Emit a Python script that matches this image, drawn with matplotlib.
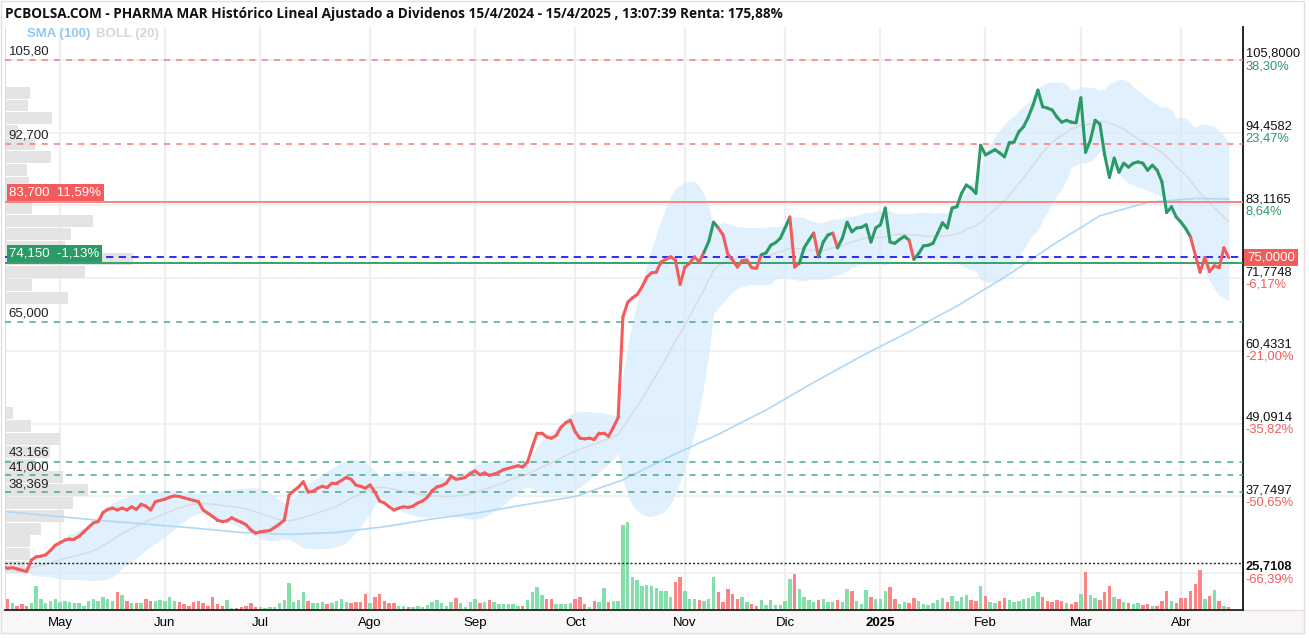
import numpy as np
import pandas as pd
import matplotlib
matplotlib.use("Agg")
import matplotlib.pyplot as plt
import matplotlib.transforms as mtransforms
from matplotlib.collections import LineCollection
from matplotlib.patches import Rectangle

# ---------------- data ----------------
start_date, end_date = "2024-04-15", "2025-04-15"
market_holidays = ["2024-05-01", "2024-12-25", "2024-12-26", "2025-01-01"]

close = [
    26.75, 26.5, 26.6, 26.4, 26.2, 26.0, 27.8, 28.3, 28.4, 28.6,
    29.3, 30.1, 30.5, 30.9, 31.1, 31.1, 31.5, 32.2, 32.9, 33.6,
    33.8, 35.2, 35.7, 35.9, 35.6, 35.9, 35.6, 36.1, 35.7, 36.5,
    36.2, 35.6, 36.9, 37.1, 37.3, 37.6, 37.8, 37.7, 37.5, 37.3,
    37.1, 36.9, 35.6, 35.1, 34.6, 34.0, 33.8, 33.9, 34.4, 34.0,
    33.7, 33.3, 32.5, 32.0, 32.2, 32.3, 32.4, 32.9, 33.4, 34.0,
    37.9, 38.6, 39.2, 40.0, 38.4, 38.5, 39.0, 39.3, 39.1, 39.8,
    39.8, 40.2, 40.7, 40.4, 39.5, 39.3, 39.0, 39.5, 38.4, 37.0,
    36.7, 36.1, 35.6, 35.9, 36.1, 36.0, 36.2, 36.7, 37.0, 37.6,
    38.6, 39.2, 39.4, 39.8, 40.9, 40.4, 40.5, 40.7, 41.3, 41.7,
    41.1, 41.4, 41.0, 41.2, 41.5, 41.9, 42.1, 42.3, 42.5, 42.3,
    43.1, 45.4, 47.6, 47.6, 47.0, 46.8, 47.2, 48.5, 49.2, 49.6,
    47.8, 46.8, 46.7, 46.8, 46.6, 47.6, 47.6, 47.1, 48.5, 50.0,
    65.7, 68.0, 68.7, 69.2, 70.4, 71.9, 72.6, 72.7, 74.3, 74.7,
    75.1, 74.6, 70.8, 73.5, 74.1, 75.1, 74.3, 75.8, 77.5, 80.5,
    79.6, 78.5, 75.5, 74.6, 73.5, 74.5, 74.6, 73.4, 73.3, 75.4,
    75.7, 76.9, 77.3, 78.0, 79.6, 81.3, 73.5, 74.1, 76.5, 77.7,
    78.8, 75.1, 77.4, 78.5, 78.8, 76.5, 78.0, 80.5, 79.0, 79.6,
    79.7, 80.1, 77.4, 79.6, 80.1, 82.7, 77.4, 77.2, 77.8, 78.3,
    77.7, 74.7, 75.6, 76.8, 76.9, 77.2, 78.8, 80.4, 79.6, 82.7,
    82.9, 85.0, 86.3, 85.8, 85.0, 92.5, 91.0, 91.4, 91.8, 91.3,
    90.7, 92.9, 93.0, 94.6, 95.4, 96.9, 98.8, 101.1, 98.5, 98.3,
    98.0, 96.9, 96.1, 96.4, 96.1, 96.0, 99.9, 91.4, 93.3, 96.4,
    95.8, 91.0, 87.5, 90.5, 88.3, 89.7, 89.1, 89.7, 89.9, 89.7,
    88.6, 89.4, 88.6, 86.8, 82.0, 82.9, 81.3, 80.5, 79.5, 78.2,
    75.4, 72.7, 75.0, 72.8, 73.7, 73.4, 76.5, 75.0,
]

volume = [
    9, 11, 7, 4, 6, 4, 7, 24, 11, 7,
    9, 11, 8, 9, 8, 7, 7, 4, 9, 11,
    9, 13, 11, 9, 18, 15, 9, 7, 7, 7,
    11, 9, 9, 10, 9, 13, 9, 8, 6, 4,
    8, 9, 7, 4, 13, 6, 4, 10, 2, 2,
    3, 4, 7, 3, 3, 2, 3, 3, 7, 10,
    27, 8, 10, 18, 9, 7, 7, 8, 6, 7,
    9, 11, 8, 7, 8, 8, 16, 7, 13, 16,
    9, 7, 7, 4, 4, 3, 3, 4, 3, 5,
    8, 10, 7, 4, 8, 12, 7, 3, 8, 11,
    7, 8, 10, 8, 6, 6, 6, 6, 4, 4,
    10, 18, 23, 15, 11, 11, 6, 6, 6, 7,
    11, 13, 6, 3, 9, 8, 22, 8, 9, 9,
    85, 88, 33, 30, 24, 25, 24, 22, 19, 19,
    13, 28, 33, 19, 11, 11, 10, 9, 11, 33,
    18, 8, 21, 16, 11, 13, 8, 6, 4, 10,
    5, 10, 5, 5, 9, 31, 36, 21, 13, 10,
    8, 10, 11, 8, 8, 10, 8, 21, 19, 9,
    6, 20, 13, 11, 11, 19, 23, 11, 6, 8,
    7, 12, 9, 6, 5, 7, 10, 12, 8, 14,
    9, 13, 15, 10, 9, 24, 14, 8, 7, 9,
    12, 10, 8, 9, 11, 12, 14, 18, 13, 9,
    8, 10, 9, 7, 6, 8, 16, 38, 15, 12,
    10, 18, 24, 13, 11, 8, 7, 6, 7, 5,
    6, 4, 4, 9, 19, 9, 7, 12, 12, 19,
    26, 40, 11, 14, 20, 9, 4, 3,
]

# index ranges (start, end) of segments drawn in the "up" colour
up_runs = [(147, 150), (159, 165), (167, 170), (171, 174), (175, 190), (191, 249)]

# SMA(100) at these session indices
sma100_idx = [0, 10, 20, 30, 40, 50, 60, 70, 80, 90, 100, 110, 120, 130,
              140, 150, 160, 170, 180, 190, 200, 210, 220, 230, 240, 250, 257]
sma100_val = [35.4, 34.7, 34.0, 33.4, 32.8, 32.1, 31.8, 32.1, 33.0, 34.2,
              35.2, 36.5, 37.7, 40.3, 44.0, 47.4, 51.2, 55.5, 59.6, 63.4,
              67.4, 71.9, 76.9, 81.5, 83.6, 84.2, 84.1]

# volume-by-price profile
profile_price = [100.7, 98.7, 96.7, 94.7, 92.7, 90.7, 88.7, 86.7, 84.7, 82.7,
                 80.7, 78.7, 76.7, 74.7, 72.7, 70.7, 68.7,
                 50.7, 48.7, 46.7, 44.7, 42.7, 40.7, 38.7, 36.7, 34.7, 32.7,
                 30.7, 28.7, 26.7]
profile_volume = [25, 23, 47, 13, 30, 46, 22, 24, 40, 27,
                  88, 66, 60, 128, 80, 27, 63,
                  8, 26, 55, 45, 30, 58, 83, 68, 59, 36, 25, 25, 20]

resistance_levels = [105.8, 92.7]
resistance_labels = ["105,80", "92,700"]
support_levels = [65.0, 43.166, 41.0, 38.369]
support_labels = ["65,000", "43.166", "41,000", "38,369"]
red_level, red_label = 83.7, "83,700  11,59%"
green_level, green_label = 74.15, "74,150  -1,13%"
last_price, last_label = 75.0, "75,0000"
min_line = 27.33

axis_values = [105.8, 94.4582, 83.1165, 71.7748, 60.4331, 49.0914, 37.7497, 25.7108]
axis_value_labels = ["105,8000", "94,4582", "83,1165", "71,7748", "60,4331",
                     "49,0914", "37,7497", "25,7108"]
axis_pct_labels = ["38,30%", "23,47%", "8,64%", "-6,17%", "-21,00%",
                   "-35,82%", "-50,65%", "-66,39%"]
month_labels = ["May", "Jun", "Jul", "Ago", "Sep", "Oct", "Nov", "Dic",
                "2025", "Feb", "Mar", "Abr"]

title = ("PCBOLSA.COM - PHARMA MAR Histórico Lineal Ajustado a Dividenos "
         "15/4/2024 - 15/4/2025 , 13:07:39 Renta: 175,88%")

# ---------------- styling ----------------
RED = "#f45b5b"
GREEN = "#2a9a66"
VOL_RED = "#fb8585"
VOL_GREEN = "#84dfaa"
GRID = "#efefef"
plt.rcParams["font.family"] = ["Liberation Sans", "DejaVu Sans"]

W, H = 1309, 638
fig = plt.figure(figsize=(W / 100, H / 100), dpi=100)


def fx(px):
    return px / W


def fy(py):
    return 1 - py / H


# frame decorations (behind the axes)
fig.patches.append(Rectangle((fx(1), fy(633)), fx(1304) - fx(1), fy(1) - fy(633),
                             transform=fig.transFigure, fc="white", ec="#e6dddd",
                             lw=1, zorder=-5))
fig.patches.append(Rectangle((fx(1), fy(633)), fx(1304) - fx(1), fy(610) - fy(633),
                             transform=fig.transFigure, fc="#f8f6f6", ec="#e6dddd",
                             lw=1, zorder=-4))

ax = fig.add_axes([fx(5), fy(610), fx(1243) - fx(5), fy(27) - fy(610)])
ax.set_zorder(1)
ax.set_facecolor("white")

days = pd.bdate_range(start_date, end_date, freq="C", holidays=market_holidays)
n = len(close)
x = np.arange(n)
periods = days.to_period("M")
month_idx = [i for i in range(1, len(days)) if periods[i] != periods[i - 1]]

price = pd.Series(close, dtype=float)
mid = price.rolling(20, min_periods=1).mean()
sd = price.rolling(20, min_periods=1).std(ddof=0).fillna(0)
upper = mid + 2 * sd
lower = mid - 2 * sd

# grid
for v in axis_values:
    ax.axhline(v, color=GRID, lw=1.3, zorder=0)
for m in month_idx:
    ax.axvline(m, color=GRID, lw=1.6, zorder=0)

# volume profile (left)
prof_tr = mtransforms.blended_transform_factory(
    mtransforms.Affine2D().scale(1 / 1238, 1) + ax.transAxes, ax.transData)
ax.barh(profile_price, profile_volume, height=1.85, left=0, color="#e4e4e4",
        transform=prof_tr, zorder=1)

# bollinger
ax.fill_between(x, lower, upper, color="#d6ebfb", alpha=0.75, lw=0, zorder=1)
ax.plot(x, mid, color="#dadada", lw=1.0, zorder=2)

# volume bars
vol_tr = mtransforms.blended_transform_factory(
    ax.transData, mtransforms.Affine2D().scale(1, 1 / 583) + ax.transAxes)
chg = np.diff(np.array(close), prepend=close[0] + 1)
vcols = [VOL_GREEN if c >= 0 else VOL_RED for c in chg]
ax.bar(x, volume, width=0.72, color=vcols, transform=vol_tr, zorder=2)

# SMA 100
ax.plot(sma100_idx, sma100_val, color="#afd8f7", lw=1.2, zorder=2)

# level lines
for lv in resistance_levels:
    ax.axhline(lv, color="#f77c7c", lw=1.1, ls=(0, (4, 4)), zorder=3)
for lv in support_levels:
    ax.axhline(lv, color="#4aa98a", lw=1.1, ls=(0, (4, 4)), zorder=3)
ax.axhline(red_level, color="#f77c7c", lw=1.3, zorder=3)
ax.axhline(green_level, color=GREEN, lw=1.3, zorder=3)
ax.axhline(last_price, color="#1a1aff", lw=1.3, ls=(0, (4, 3)), zorder=3)
ax.axhline(min_line, color="#222222", lw=1.0, ls=(0, (1.5, 1.5)), zorder=3)

# price line with trend colours
pts = np.column_stack([x, price.values])
segs = np.stack([pts[:-1], pts[1:]], axis=1)
seg_up = np.zeros(n - 1, dtype=bool)
for a, b in up_runs:
    seg_up[a:b] = True
lc = LineCollection(segs, colors=[GREEN if u else RED for u in seg_up],
                    linewidths=2.2, capstyle="round", joinstyle="round", zorder=4)
ax.add_collection(lc)

# left labels
for lv, lab in zip(resistance_levels + support_levels, resistance_labels + support_labels):
    ax.annotate(lab, xy=(0, lv), xycoords=("axes fraction", "data"),
                xytext=(2.5, 1.5), textcoords="offset points", ha="left", va="bottom",
                fontsize=9.5, color="#222222", zorder=6)
ax.annotate(red_label, xy=(0, red_level), xycoords=("axes fraction", "data"),
            xytext=(3, 2.5), textcoords="offset points", ha="left", va="bottom",
            fontsize=9.5, color="white", zorder=6,
            bbox=dict(boxstyle="square,pad=0.18", fc=RED, ec="none"))
ax.annotate(green_label, xy=(0, green_level), xycoords=("axes fraction", "data"),
            xytext=(3, 2.5), textcoords="offset points", ha="left", va="bottom",
            fontsize=9.5, color="white", zorder=6,
            bbox=dict(boxstyle="square,pad=0.18", fc=GREEN, ec="none"))

# right axis labels
for k, (v, vl, pl) in enumerate(zip(axis_values, axis_value_labels, axis_pct_labels)):
    pc = RED if pl.startswith("-") else GREEN
    ax.annotate(vl, xy=(1, v), xycoords=("axes fraction", "data"), xytext=(2, 4.4),
                textcoords="offset points", ha="left", va="center", fontsize=9.3,
                color="#111111", annotation_clip=False,
                fontweight="bold" if k == len(axis_values) - 1 else "normal")
    ax.annotate(pl, xy=(1, v), xycoords=("axes fraction", "data"), xytext=(2, -4.4),
                textcoords="offset points", ha="left", va="center", fontsize=9.3,
                color=pc, annotation_clip=False)
ax.annotate(last_label, xy=(1, last_price), xycoords=("axes fraction", "data"),
            xytext=(3, 0), textcoords="offset points", ha="left", va="center",
            fontsize=9.5, color="white", annotation_clip=False, zorder=7,
            bbox=dict(boxstyle="square,pad=0.22", fc=RED, ec="none"))

# axes styling
ax.set_xlim(0.46, 260.0)
ax.set_ylim(20.0, 110.95)
ax.set_yticks([])
ax.set_xticks(month_idx)
ax.set_xticklabels(month_labels, fontsize=9.5)
for t in ax.get_xticklabels():
    if t.get_text() == "2025":
        t.set_fontweight("bold")
ax.tick_params(axis="x", length=0, pad=5)
ax.spines["top"].set_visible(False)
ax.spines["left"].set_color("#dddddd")
ax.spines["bottom"].set_color("#222222")
ax.spines["bottom"].set_linewidth(1.3)
ax.spines["right"].set_color("#111111")
ax.spines["right"].set_linewidth(1.3)

# title and legend
fig.text(fx(5), fy(14), title, fontsize=9.85, fontweight="bold", va="center",
         ha="left", color="#111111", family=["Open Sans", "DejaVu Sans"])
fig.text(fx(27), fy(34), "SMA (100)", fontsize=9.5, fontweight="bold",
         color="#8fcaf5", va="center", ha="left")
fig.text(fx(96), fy(34), "BOLL (20)", fontsize=9.5, fontweight="bold",
         color="#d6d6d6", va="center", ha="left")

fig.savefig("out.png", dpi=100)
